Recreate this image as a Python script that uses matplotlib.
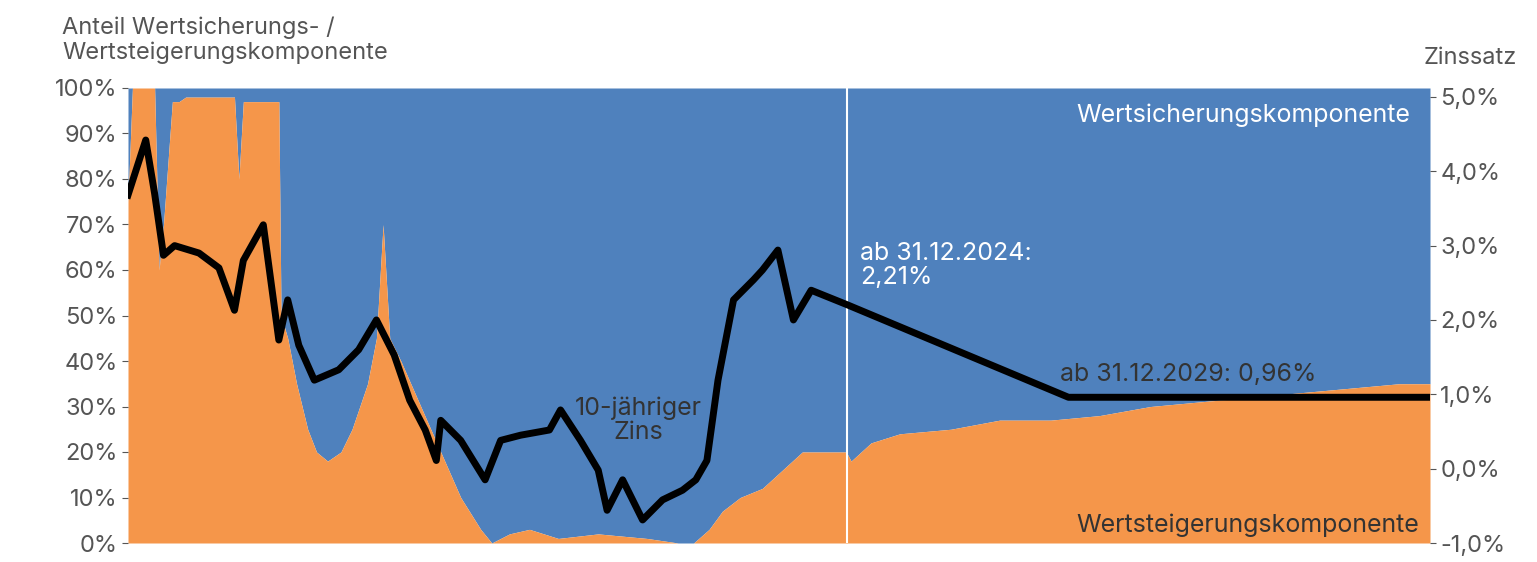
import matplotlib.pyplot as plt
from matplotlib.ticker import FuncFormatter

plt.rcParams['font.family'] = ['Inter', 'DejaVu Sans']

BLUE = '#4F81BD'
ORANGE = '#F5964A'
GREY = '#555555'

# x positions in years (2025.0 = 31.12.2024)
share_x = [2008.8, 2008.9, 2009.4, 2009.5, 2009.6, 2009.8, 2009.95, 2010.1, 2011.2, 2011.3, 2011.4,
           2012.2, 2012.25, 2012.4, 2012.6, 2012.85, 2013.05, 2013.3, 2013.6, 2013.85, 2014.2,
           2014.4, 2014.55, 2014.7, 2014.95, 2015.4, 2015.85, 2016.3, 2016.75, 2017.0, 2017.4,
           2017.85, 2018.5, 2019.4, 2020.5, 2021.2, 2021.55, 2021.9, 2022.2, 2022.6, 2023.1,
           2023.55, 2024.0, 2024.99, 2025.1, 2025.55, 2026.2, 2027.35, 2028.45, 2029.6,
           2030.7, 2031.85, 2032.95, 2035.2, 2037.45, 2038.15]
share_y = [75, 100, 100, 60, 70, 97, 97, 98, 98, 80, 97,
           97, 50, 45, 35, 25, 20, 18, 20, 25, 35,
           45, 70, 45, 40, 30, 20, 10, 3, 0, 2,
           3, 1, 2, 1, 0, 0, 3, 7, 10, 12,
           16, 20, 20, 18, 22, 24, 25, 27, 27,
           28, 30, 31, 33, 35, 35]

rate_x = [2008.8, 2009.2, 2009.4, 2009.6, 2009.85, 2010.4, 2010.85, 2011.2, 2011.4, 2011.85,
          2012.2, 2012.4, 2012.65, 2013.0, 2013.55, 2014.0, 2014.4, 2014.8, 2015.15, 2015.5,
          2015.75, 2015.85, 2016.3, 2016.85, 2017.2, 2017.65, 2018.3, 2018.55, 2019.0, 2019.4,
          2019.6, 2019.95, 2020.4, 2020.85, 2021.3, 2021.6, 2021.85, 2022.1, 2022.45, 2022.9,
          2023.1, 2023.45, 2023.8, 2024.2, 2024.99, 2030.0, 2038.15]
rate_y = [3.68, 4.42, 3.7, 2.87, 3.0, 2.9, 2.7, 2.13, 2.8, 3.28,
          1.73, 2.27, 1.66, 1.19, 1.33, 1.6, 2.0, 1.53, 0.92, 0.52,
          0.11, 0.65, 0.38, -0.15, 0.38, 0.45, 0.52, 0.79, 0.38, -0.02,
          -0.56, -0.15, -0.69, -0.42, -0.29, -0.15, 0.11, 1.19, 2.27, 2.54,
          2.67, 2.94, 2.0, 2.4, 2.21, 0.96, 0.96]

fig = plt.figure(figsize=(15.37, 5.62), dpi=100)
ax = fig.add_axes([128 / 1537, 19 / 562, 1302 / 1537, 455 / 562])
ax.fill_between(share_x, share_y, 100, color=BLUE, lw=0)
ax.fill_between(share_x, 0, share_y, color=ORANGE, lw=0)
ax.axvline(2025.0, color='white', lw=1.5)
ax.set_xlim(share_x[0], share_x[-1])
ax.set_ylim(0, 100)
ax.set_yticks(range(0, 101, 10))
ax.yaxis.set_major_formatter(FuncFormatter(lambda v, p: f'{int(v)}%'))
ax.set_xticks([])
for s in ax.spines.values():
    s.set_visible(False)
ax.tick_params(axis='y', labelsize=17, colors=GREY, length=4)

ax2 = ax.twinx()
ax2.plot(rate_x, rate_y, color='black', lw=5, solid_joinstyle='round')
ax2.set_ylim(-1, 5.12)
ax2.set_yticks([-1, 0, 1, 2, 3, 4, 5])
ax2.yaxis.set_major_formatter(FuncFormatter(lambda v, p: f'{v:.1f}%'.replace('.', ',')))
for s in ax2.spines.values():
    s.set_visible(False)
ax2.tick_params(axis='y', labelsize=17, colors=GREY, length=4)

fig.text(62 / 1537, 1 - 40 / 562, 'Anteil Wertsicherungs- /\nWertsteigerungskomponente',
         fontsize=17, color=GREY, va='center', ha='left', linespacing=1.15)
fig.text(1470 / 1537, 1 - 58 / 562, 'Zinssatz', fontsize=17, color=GREY, va='center', ha='center')
ax.text(2037.7, 94, 'Wertsicherungskomponente', color='white', fontsize=18, ha='right', va='center')
ax.text(2037.9, 4, 'Wertsteigerungskomponente', color='#333333', fontsize=18, ha='right', va='center')
ax.text(2020.3, 27, '10-jähriger\nZins', color='#333333', fontsize=18, ha='center', va='center', linespacing=1.05)
ax.text(2025.3, 61, 'ab 31.12.2024:\n2,21%', color='white', fontsize=18, ha='left', va='center', linespacing=1.05)
ax.text(2029.8, 37, 'ab 31.12.2029: 0,96%', color='#333333', fontsize=18, ha='left', va='center')

fig.savefig('out.png', dpi=100)
